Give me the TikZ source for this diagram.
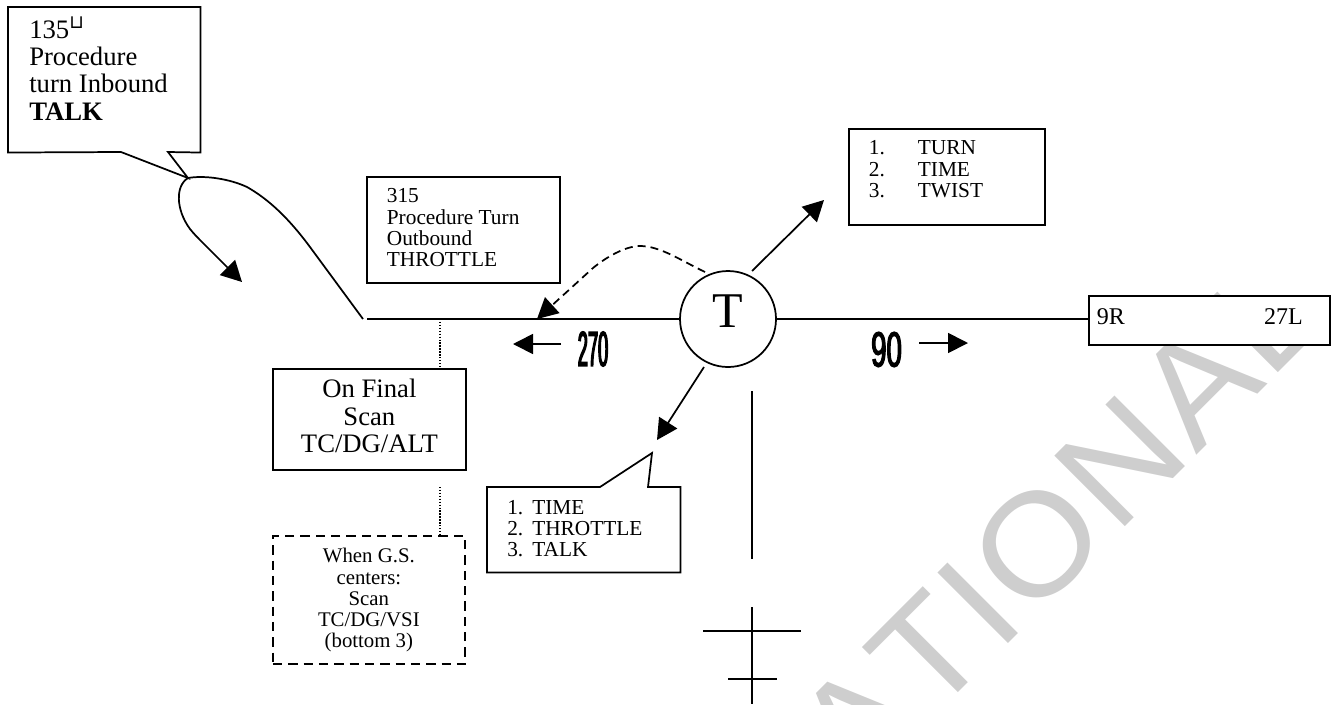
\documentclass[tikz,border=0pt]{standalone}
\usepackage{fontspec}
\setmainfont{Liberation Serif}
\newfontfamily\wmfont[FakeStretch=1.05,LetterSpace=2,Kerning=Off]{Liberation Sans}
\newfontfamily\symfont{DejaVu Sans}
\newfontfamily\condfont[FakeStretch=0.37,FakeBold=2.5]{Liberation Sans}
\newfontfamily\condwide[FakeStretch=0.56,FakeBold=2.5]{Liberation Sans}
\usetikzlibrary{arrows.meta,calc}
\definecolor{wmgrey}{HTML}{CECECE}
\newlength\pxu
\setlength\pxu{.75pt}
% width, height, left pad, first-baseline offset, baselineskip (all px), text
\newcommand\bxt[6]{%
  \begin{minipage}[t][#2\pxu][t]{#1\pxu}%
  \setlength\parindent{0pt}\setlength\baselineskip{#5\pxu}\setlength\lineskip{0pt}\setlength\lineskiplimit{-100pt}%
  \raggedright\leftskip=#3\pxu\relax\rule{0pt}{#4\pxu}#6%
  \end{minipage}}
\newcommand\bxc[5]{%
  \begin{minipage}[t][#2\pxu][t]{#1\pxu}%
  \setlength\parindent{0pt}\setlength\baselineskip{#4\pxu}\setlength\lineskip{0pt}\setlength\lineskiplimit{-100pt}%
  \centering\rule{0pt}{#3\pxu}#5%
  \end{minipage}}
\tikzset{
  ln/.style={line width=1.3pt,black},
  bx/.style={draw,line width=1.3pt,inner sep=0pt,anchor=north west,fill=white},
  ghost/.style={inner sep=0pt,anchor=north west},
  arr/.style={ln,-{Triangle[length=15.5pt,width=16pt]}},
  dot/.style={line width=1pt,dash pattern=on 1pt off 1.2pt},
  tsmall/.style={font=\fontsize{16}{18}\selectfont},
  tbig/.style={font=\fontsize{20}{22}\selectfont},
  trwy/.style={font=\fontsize{18}{20}\selectfont},
  cond/.style={font=\condfont\fontsize{37}{37}\selectfont,inner sep=0pt},
  condw/.style={font=\condwide\fontsize{37}{37}\selectfont,inner sep=0pt},
}
\begin{document}
\begin{tikzpicture}[x=.75pt,y=-.75pt]
\useasboundingbox (0,0) rectangle (1333,704);
\begin{scope}
\clip (0,0) rectangle (1333,704);
\node[wmgrey,rotate=45,inner sep=0pt,font=\wmfont\fontsize{108.75}{108.75}\selectfont] (wm) at (1058,523) {ATIONAL};
\end{scope}

% T marker
\node[draw,ln,circle,minimum size=96\pxu,inner sep=0pt,font=\fontsize{37.5}{40}\selectfont] (T) at (728,319) {\raisebox{8\pxu}[\height][\depth]{T}};

% runway
\node[bx,trwy] (rwy) at (1088,295) {\bxt{241}{49}{0}{29}{27}{\hspace*{8\pxu}9R\hfill 27L\hspace*{27\pxu}}};
\draw[ln] (T.east) -- (rwy.west |- T.east);

% boxes
\node[bx,tsmall] (pto) at (366,176) {\bxt{193}{106}{20}{26}{21.3}{315\\Procedure Turn\\Outbound\\THROTTLE}};
\node[bx,tsmall] (turn) at (848,128) {\bxt{196}{96}{20}{26}{21.5}{1.\hspace*{33\pxu}TURN\\2.\hspace*{33\pxu}TIME\\3.\hspace*{33\pxu}TWIST}};
\node[bx,tbig] (final) at (272,368) {\bxc{193}{101}{29}{27.5}{On Final\\Scan\\TC/DG/ALT}};
\node[bx,font=\fontsize{15.6}{18}\selectfont,dash pattern=on 7pt off 4.5pt] (gs) at (272,535) {\bxc{192}{128}{27}{21.2}{When G.S.\\centers:\\Scan\\TC/DG/VSI\\(bottom 3)}};

% callouts
\node[ghost,tbig] (inb) at (8,7) {\bxt{192}{145}{21}{31}{27.3}{135\textsuperscript{\symfont ⊔}\\Procedure\\turn Inbound\\\textbf{TALK}}};
\coordinate (inbtip) at (188,178);
\draw[ln] (inb.north west) -- (inb.north east) -- (inb.south east) -- (168,152) -- (inbtip) -- (121,152) -- (inb.south west) -- cycle;

\node[ghost,tsmall] (ttt) at (487,487) {\bxt{193}{85}{20}{27}{21}{1.\hspace*{9\pxu}TIME\\2.\hspace*{9\pxu}THROTTLE\\3.\hspace*{9\pxu}TALK}};
\coordinate (ttttip) at (652,453);
\draw[ln] (ttt.north west) -- (600,487) -- (ttttip) -- (648,487) -- (ttt.north east) -- (ttt.south east) -- (ttt.south west) -- cycle;

% main course and procedure turn
\coordinate (lineend) at (367,319);
\draw[ln] (T.west) -- (lineend);
\coordinate (ptstart) at (363,319);
\coordinate (pttip) at (242,282);
\draw[arr] (ptstart) -- (310,247) .. controls (290,220) and (270,200) .. (247,187)
  .. controls (230,179) and (205,175) .. (inbtip)
  .. controls (175,186) and (176,210) .. (190,229)
  .. controls (194,234) and (198,238) .. (203,243) -- (pttip);

% T arrows
\coordinate (turnstart) at (752,271);
\coordinate (turntip) at (824,200);
\draw[arr] (turnstart) -- (turntip);
\coordinate (tttstart) at (704,367);
\coordinate (tttarrow) at (657,440);
\draw[arr] (tttstart) -- (tttarrow);
\coordinate (dashstart) at (705,272);
\coordinate (dashtip) at (537,319);
\draw[ln,dash pattern=on 6pt off 3.75pt,-{Triangle[length=15.5pt,width=16pt]}] (dashstart) .. controls (680,260) and (660,246) .. (640,246)
  .. controls (625,246) and (605,258) .. (593,268) -- (dashtip);

% headings
\node[cond] (h270) at (593,349) {270};
\node[condw] (h90) at (886.5,349.5) {90};
\coordinate (w1) at (561,344); \coordinate (w2) at (513,344);
\draw[ln,-{Triangle[length=15pt,width=15pt]}] (w1) -- (w2);
\coordinate (e1) at (919,343); \coordinate (e2) at (968,343);
\draw[ln,-{Triangle[length=15pt,width=15pt]}] (e1) -- (e2);

% dotted links
\coordinate (d0) at (440,319);
\draw[dot] (d0) -- (d0 |- final.north);
\coordinate (d1) at (440,487);
\draw[dot] (d1) -- (d1 |- gs.north);

% airplane
\coordinate (v1) at (752,391); \coordinate (v2) at (752,559);
\draw[ln] (v1) -- (v2);
\coordinate (v3) at (752,607); \coordinate (v4) at (752,704);
\draw[ln] (v3) -- (v4);
\coordinate (w3) at (703,631); \coordinate (w4) at (801,631);
\draw[ln] (w3) -- (w4);
\coordinate (w5) at (728,679); \coordinate (w6) at (777,679);
\draw[ln] (w5) -- (w6);
\end{tikzpicture}
\end{document}
